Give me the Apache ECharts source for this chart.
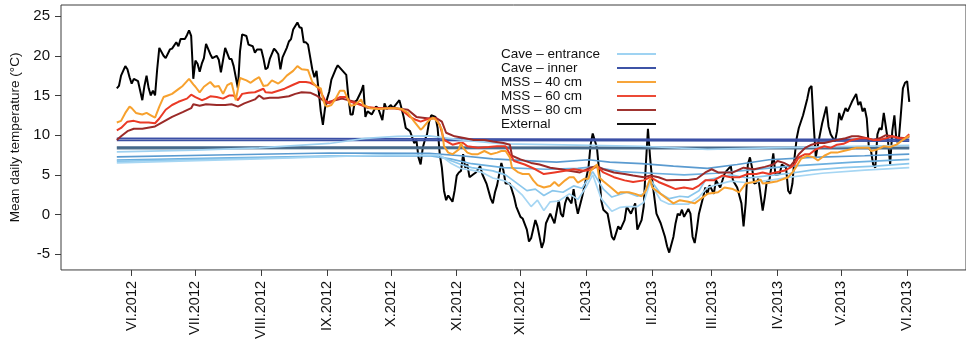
<!DOCTYPE html>
<html><head><meta charset="utf-8">
<script src="https://cdn.jsdelivr.net/npm/echarts@6/dist/echarts.min.js"></script>
<style>html,body{margin:0;padding:0;background:#fff}#c{width:966px;height:342px}</style>
</head><body><div id="c"></div>
<script>
// x values are days counted from 1 June 2012
const monthStarts = ['2012-06-01','2012-07-01','2012-08-01','2012-09-01','2012-10-01','2012-11-01','2012-12-01','2013-01-01','2013-02-01','2013-03-01','2013-04-01','2013-05-01','2013-06-01'];
const monthLabels = ['VI.2012','VII.2012','VIII.2012','IX.2012','X.2012','XI.2012','XII.2012','I.2013','II.2013','III.2013','IV.2013','V.2013','VI.2013'];
const yTicks = [-5,0,5,10,15,20,25];

const external = [[-7,15.9],[-6,16.2],[-5,17.5],[-3,18.7],[-2,18.3],[-1,17.3],[0,16.5],[1,17.1],[3,16.8],[4,15.6],[5,14.4],[6,16.2],[7,17.5],[8,15.9],[9,15.0],[10,15.6],[11,15.0],[12,18.3],[13,21.0],[15,20.0],[16,19.7],[18,20.8],[19,20.9],[21,21.7],[22,21.2],[23,22.1],[25,22.1],[26,22.6],[27,23.2],[28,22.5],[29,17.1],[30,19.4],[31,19.0],[32,18.0],[33,19.0],[34,19.7],[35,21.5],[37,20.2],[38,19.7],[40,20.0],[41,19.5],[42,17.9],[44,21.0],[46,19.6],[47,19.6],[48,18.7],[50,15.9],[51,20.6],[52,22.7],[54,22.5],[55,21.4],[57,21.2],[58,20.4],[59,20.8],[61,20.8],[62,19.7],[63,18.3],[64,18.5],[65,19.6],[67,20.9],[68,20.6],[69,20.2],[70,18.3],[71,19.8],[73,21.0],[74,21.8],[75,22.1],[76,23.3],[78,24.2],[79,23.6],[80,23.5],[81,21.7],[82,21.7],[83,21.4],[85,18.3],[86,17.3],[87,18.1],[88,15.6],[89,13.0],[90,11.3],[91,13.4],[92,14.6],[93,15.5],[94,17.0],[96,18.3],[97,18.8],[99,18.2],[101,17.6],[102,14.8],[103,12.6],[104,12.6],[105,14.2],[106,14.4],[108,15.5],[109,16.3],[110,12.3],[111,13.0],[112,12.8],[113,12.6],[114,13.1],[115,13.6],[116,13.4],[118,11.9],[119,14.0],[120,13.3],[122,13.8],[123,13.4],[126,14.4],[127,13.4],[128,12.3],[129,10.9],[131,10.5],[133,9.0],[134,9.4],[135,7.2],[136,6.3],[137,8.4],[138,9.4],[139,10.1],[140,11.7],[141,12.5],[143,12.3],[144,10.9],[145,7.6],[146,5.9],[147,3.0],[148,1.8],[149,2.4],[151,1.6],[152,3.0],[153,4.9],[154,5.3],[155,5.5],[156,7.6],[157,5.9],[158,6.3],[159,4.7],[161,5.1],[162,5.3],[164,6.1],[165,5.1],[167,3.9],[169,2.0],[170,1.4],[171,2.8],[172,3.7],[174,6.5],[175,5.5],[176,3.9],[178,3.9],[180,2.2],[181,1.0],[183,-0.3],[184,-0.5],[186,-1.9],[187,-3.4],[188,-3.0],[190,-0.7],[191,-1.5],[193,-4.2],[194,-3.4],[195,-1.1],[197,0.1],[198,-0.5],[199,-1.1],[201,1.8],[202,0.1],[203,-0.3],[204,1.4],[205,2.2],[207,1.4],[208,3.2],[209,1.4],[210,0.1],[212,2.2],[213,3.4],[215,5.9],[216,8.8],[217,10.2],[219,8.4],[220,5.5],[221,1.8],[222,0.6],[224,0.1],[226,-2.8],[227,-3.2],[229,-1.5],[230,-1.9],[232,-0.7],[233,1.0],[235,0.1],[237,1.4],[238,-1.9],[240,-0.7],[241,1.0],[242,6.3],[243,10.8],[244,7.2],[245,4.3],[246,2.2],[247,0.1],[249,-1.1],[251,-2.8],[252,-4.0],[253,-4.8],[255,-2.8],[256,-1.1],[257,0.1],[258,-0.1],[259,0.6],[260,-0.3],[262,0.7],[263,0.1],[264,-2.8],[265,-3.6],[266,-1.9],[267,0.1],[269,2.2],[270,3.4],[271,2.6],[272,3.7],[274,2.6],[275,4.3],[277,3.4],[279,5.1],[280,5.5],[282,6.1],[283,4.3],[285,3.4],[287,1.4],[288,-1.5],[289,1.4],[290,6.3],[291,7.2],[292,5.9],[293,3.9],[294,4.0],[295,4.5],[297,0.5],[298,2.2],[299,4.3],[300,4.0],[302,7.7],[303,5.0],[305,5.1],[306,6.3],[308,5.9],[309,3.0],[310,2.6],[311,3.9],[312,7.2],[313,9.6],[314,10.9],[316,12.5],[318,14.6],[319,15.9],[320,16.2],[321,11.3],[322,7.2],[323,8.8],[325,11.5],[327,13.6],[328,11.1],[329,10.1],[331,9.2],[332,10.5],[333,12.8],[334,11.9],[336,13.4],[337,13.0],[339,14.2],[341,15.2],[342,13.8],[343,14.2],[344,13.0],[345,13.4],[346,12.1],[347,8.4],[348,8.0],[349,6.3],[350,5.9],[351,10.1],[352,10.9],[353,10.7],[354,12.8],[356,9.2],[357,6.3],[358,10.5],[359,12.5],[360,9.2],[361,9.2],[362,12.5],[363,15.9],[364,16.6],[365,16.8],[366,14.2]];

const mss40 = [[-7,11.6],[-5,11.8],[-3,12.8],[-1,13.6],[0,13.4],[2,12.8],[5,12.6],[7,12.8],[9,12.5],[11,12.2],[13,13.6],[15,14.8],[17,15.0],[19,15.2],[22,15.8],[24,16.2],[27,17.1],[29,16.4],[30,16.1],[32,15.4],[34,16.1],[37,16.7],[39,16.1],[41,16.2],[43,15.2],[45,16.3],[47,16.6],[49,14.4],[51,17.2],[54,16.9],[56,16.6],[58,17.0],[60,17.3],[62,16.2],[64,16.3],[66,16.9],[69,16.5],[71,16.9],[73,17.5],[76,18.1],[78,18.7],[80,18.3],[83,18.2],[85,16.7],[87,16.1],[89,15.9],[90,14.6],[91,13.8],[92,13.6],[94,13.8],[96,14.6],[98,15.6],[100,15.6],[101,15.0],[103,13.7],[105,13.8],[108,14.5],[109,13.8],[112,13.4],[116,13.3],[121,13.4],[124,13.4],[127,13.3],[130,12.8],[133,11.7],[136,10.7],[137,10.9],[140,11.9],[142,12.2],[144,11.7],[146,10.7],[147,8.6],[149,7.8],[151,7.6],[154,8.2],[155,9.0],[156,8.4],[158,7.8],[160,7.6],[163,7.6],[166,8.0],[169,7.6],[172,7.8],[174,8.0],[176,8.0],[178,7.2],[179,5.9],[182,5.3],[184,5.1],[187,5.1],[189,4.3],[191,3.7],[194,3.4],[197,3.6],[199,4.1],[201,3.6],[204,4.3],[206,4.7],[208,4.7],[210,4.0],[213,4.5],[215,4.5],[216,5.5],[219,6.3],[220,4.7],[222,4.2],[226,3.3],[229,2.6],[230,2.8],[234,2.8],[237,2.6],[240,2.3],[242,3.0],[244,4.5],[245,3.4],[249,2.6],[253,1.8],[255,1.4],[258,1.8],[262,1.6],[265,1.4],[267,1.8],[271,2.6],[276,2.8],[279,3.4],[283,3.2],[286,2.8],[289,3.9],[293,4.1],[296,4.4],[297,3.9],[300,4.0],[302,4.1],[304,4.2],[307,4.5],[309,4.7],[311,5.3],[313,6.1],[315,7.0],[318,7.4],[321,7.2],[323,6.8],[326,7.4],[329,7.8],[332,7.8],[335,8.0],[338,8.2],[341,8.4],[344,8.4],[347,8.4],[348,8.0],[351,8.2],[354,8.6],[357,8.5],[360,8.8],[363,9.4],[366,9.9]];

const mss60 = [[-7,10.6],[-5,10.9],[-2,11.7],[1,11.8],[4,11.6],[8,11.6],[11,11.5],[13,12.1],[16,13.2],[19,13.8],[22,14.2],[26,14.6],[28,15.1],[30,14.8],[33,14.4],[35,14.6],[37,14.9],[40,14.8],[43,14.6],[46,15.0],[48,15.0],[50,14.4],[52,15.2],[55,15.35],[58,15.4],[62,15.85],[63,15.4],[66,15.35],[69,15.6],[72,15.85],[76,16.35],[79,16.7],[82,16.7],[84,16.6],[87,16.2],[89,15.4],[91,14.4],[93,14.0],[95,14.4],[98,14.8],[101,14.8],[103,14.2],[108,13.8],[112,13.5],[116,13.4],[121,13.4],[124,13.4],[127,13.2],[131,12.3],[134,11.9],[136,11.7],[140,12.1],[143,12.1],[145,11.3],[147,9.4],[151,8.8],[154,9.0],[156,9.0],[158,8.6],[163,8.4],[168,8.5],[172,8.6],[176,8.6],[178,7.6],[180,6.75],[185,6.3],[190,5.7],[194,5.1],[199,5.3],[204,5.5],[208,5.7],[213,5.5],[216,5.6],[219,6.1],[222,5.3],[227,4.7],[232,4.3],[236,4.1],[241,4.3],[244,4.7],[248,4.1],[252,3.65],[256,3.2],[260,3.4],[264,3.2],[267,3.65],[270,4.3],[274,4.3],[278,4.9],[282,4.7],[286,4.7],[290,5.1],[294,5.1],[297,5.3],[300,5.1],[303,5.3],[307,5.5],[310,5.9],[312,6.3],[314,7.2],[317,7.6],[319,7.6],[322,8.2],[326,8.6],[329,8.4],[332,8.8],[335,8.9],[339,9.4],[343,9.6],[346,9.6],[349,9.4],[352,9.4],[355,9.6],[358,9.85],[361,9.6],[364,9.6],[366,10.1]];

const mss80 = [[-7,9.4],[-5,9.85],[-2,10.5],[1,10.8],[5,10.8],[9,11.0],[11,11.1],[15,11.7],[19,12.3],[24,12.9],[28,13.4],[29,13.9],[32,13.7],[35,13.9],[40,13.8],[44,13.8],[47,13.9],[50,13.6],[53,14.0],[58,14.5],[60,15.0],[62,14.6],[65,14.7],[69,14.7],[74,14.9],[77,15.2],[80,15.4],[84,15.35],[87,15.0],[90,14.4],[92,14.0],[93,14.2],[99,14.6],[105,14.2],[111,13.45],[117,13.4],[124,13.4],[130,13.2],[134,12.3],[140,12.1],[143,12.2],[146,11.7],[148,10.3],[152,9.85],[157,9.6],[161,9.4],[166,9.4],[170,9.2],[175,9.0],[178,8.8],[179,7.4],[183,6.95],[188,6.5],[192,6.3],[197,5.9],[202,5.7],[206,5.5],[211,5.3],[216,5.9],[219,6.1],[222,5.7],[227,5.3],[232,5.1],[236,4.9],[241,4.7],[244,4.9],[248,4.7],[252,4.3],[257,4.35],[262,4.35],[266,4.5],[270,5.3],[273,5.7],[276,5.3],[280,5.3],[283,5.3],[288,5.9],[293,5.7],[298,6.0],[302,6.3],[304,6.75],[307,6.5],[310,6.1],[312,6.75],[314,7.6],[317,8.4],[320,8.8],[323,9.0],[326,9.0],[329,9.2],[332,9.4],[336,9.6],[339,9.85],[342,9.85],[346,9.6],[349,9.4],[352,9.6],[355,10.0],[358,9.85],[361,9.7],[364,9.6],[366,9.85]];

const inner1 = [[-7,9.6],[90,9.55],[180,9.5],[270,9.45],[366,9.45]];
const inner2 = [[-7,9.35],[120,9.35],[240,9.3],[366,9.25]];
const inner3 = [[-7,8.5],[120,8.5],[240,8.45],[366,8.45]];
const inner4 = [[-7,8.3],[120,8.32],[240,8.3],[366,8.3]];

const entrance1 = [[-7,7.9],[30,8.1],[60,8.4],[93,8.95],[110,9.6],[125,9.85],[140,9.9],[155,9.4],[175,8.9],[210,8.75],[240,8.6],[271,8.2],[300,8.4],[366,8.7]];
const entrance2 = [[-7,7.25],[40,7.5],[93,7.75],[140,7.7],[155,7.4],[170,7.0],[185,6.8],[200,6.6],[215,6.9],[225,6.6],[240,6.4],[255,6.1],[271,5.8],[285,6.3],[300,6.9],[320,7.2],[345,7.4],[366,7.6]];
const entrance3 = [[-7,6.87],[40,7.1],[93,7.37],[140,7.4],[150,7.0],[160,6.4],[175,5.9],[195,5.7],[210,5.8],[217,6.0],[230,5.4],[245,5.2],[260,5.0],[275,5.2],[290,5.6],[310,6.1],[340,6.6],[366,6.95]];
const entrance4 = [[-7,6.7],[60,7.1],[120,7.5],[145,7.4],[150,6.8],[155,6.3],[160,5.9],[170,5.5],[176,5.0],[180,4.2],[186,3.0],[190,3.2],[194,2.4],[198,3.0],[203,2.8],[208,3.6],[212,3.3],[217,5.4],[222,3.2],[226,2.2],[233,2.8],[238,2.3],[241,2.6],[244,4.4],[249,2.6],[253,2.0],[258,2.3],[262,2.2],[267,3.0],[270,4.3],[275,4.6],[282,5.0],[290,4.6],[300,4.9],[310,5.2],[320,5.6],[335,5.9],[350,6.1],[366,6.4]];
const entrance5 = [[-7,6.5],[60,7.0],[120,7.5],[145,7.5],[150,6.5],[155,5.8],[160,5.6],[165,5.3],[170,4.6],[176,4.2],[180,3.4],[184,2.4],[188,1.0],[191,1.8],[194,0.5],[197,1.6],[201,1.7],[206,2.6],[210,1.9],[214,3.5],[217,5.0],[221,2.0],[226,0.4],[230,0.9],[233,1.0],[238,1.0],[241,1.5],[244,4.0],[249,1.8],[253,1.3],[258,1.3],[262,1.3],[267,2.2],[271,3.4],[276,3.8],[282,4.2],[290,4.0],[300,4.3],[310,4.7],[325,5.2],[345,5.6],[366,5.9]];

const FONT = '"Liberation Sans", Arial, Helvetica, sans-serif';
const origin = Date.UTC(2012, 5, 1);
const tickDays = monthStarts.map(s => Math.round((Date.parse(s + 'T00:00:00Z') - origin) / 86400000));

function line(name, data, color, width) {
  return { type: 'line', name, data, showSymbol: false, symbol: 'none', silent: true,
    lineStyle: { color, width }, itemStyle: { color }, emphasis: { disabled: true } };
}
const ENT = 'Cave – entrance', INN = 'Cave – inner';
const series = [
  line('External', external, '#000000', 2),
  line(INN, inner4, '#4c6f8d', 1.8),
  line(INN, inner3, '#45698a', 1.8),
  line(INN, inner2, '#3a50a2', 1.8),
  line(INN, inner1, '#3b4fa6', 1.8),
  line(ENT, entrance1, '#9fd1f0', 1.7),
  line(ENT, entrance2, '#5b9bd0', 1.7),
  line(ENT, entrance3, '#6db0df', 1.7),
  line(ENT, entrance4, '#8bc7ec', 1.7),
  line(ENT, entrance5, '#a6d6f3', 1.7),
  line('MSS – 80 cm', mss80, '#9b2a28', 2),
  line('MSS – 60 cm', mss60, '#ea3a26', 2),
  line('MSS – 40 cm', mss40, '#f7a12e', 2)
];

const chart = echarts.init(document.getElementById('c'), null, { renderer: 'canvas' });
chart.setOption({
  animation: false,
  backgroundColor: '#ffffff',
  grid: { left: 61, top: 5, right: -4, bottom: 68, show: true, borderColor: '#3c3c3c', borderWidth: 1, containLabel: false },
  legend: {
    orient: 'vertical', left: 501, top: 47, padding: 0, itemGap: 0, align: 'right',
    icon: 'rect', itemWidth: 39, itemHeight: 2, selectedMode: false,
    formatter: n => '{t|' + n + '}',
    textStyle: { rich: { t: { width: 111, align: 'left', fontSize: 13.5, lineHeight: 13.3, fontFamily: FONT, color: '#111' } } },
    data: [
      { name: ENT, itemStyle: { color: '#9fd3f2' } },
      { name: INN, itemStyle: { color: '#3d53a6' } },
      { name: 'MSS – 40 cm', itemStyle: { color: '#f7a53a' } },
      { name: 'MSS – 60 cm', itemStyle: { color: '#ec4a36' } },
      { name: 'MSS – 80 cm', itemStyle: { color: '#a03430' } },
      { name: 'External', itemStyle: { color: '#111111' } }
    ]
  },
  xAxis: {
    type: 'value', min: -33.27, max: 392.7, position: 'bottom',
    axisLine: { show: false, onZero: false }, splitLine: { show: false },
    axisTick: { show: true, length: 6, customValues: tickDays, lineStyle: { color: '#3c3c3c' } },
    axisLabel: { customValues: tickDays, rotate: 90, margin: 11, fontSize: 14.5, fontFamily: FONT, color: '#111',
      formatter: v => { const i = tickDays.indexOf(Math.round(v)); return i >= 0 ? monthLabels[i] : ''; } }
  },
  yAxis: {
    type: 'value', min: -6.99, max: 26.40, position: 'left',
    axisLine: { show: false, onZero: false }, splitLine: { show: false },
    axisTick: { show: true, length: 6, customValues: yTicks, lineStyle: { color: '#3c3c3c' } },
    axisLabel: { customValues: yTicks, margin: 11, fontSize: 15, fontFamily: FONT, color: '#111' },
    name: 'Mean daily temperature (°C)', nameLocation: 'middle', nameRotate: 90, nameGap: 38,
    nameTextStyle: { fontSize: 13.5, fontFamily: FONT, color: '#111' }
  },
  series
});
</script>
</body></html>
